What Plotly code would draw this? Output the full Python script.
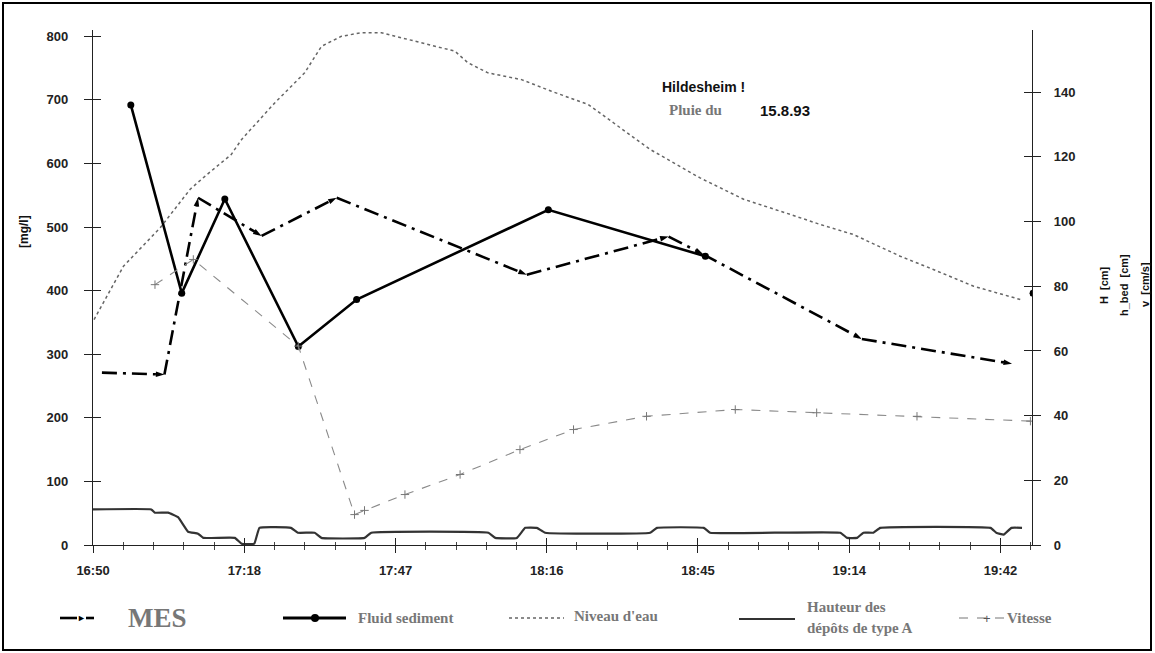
import plotly.graph_objects as go

# ---------------- data (time in minutes after 16:50) ----------------
tick_minutes = [0, 28.8, 57.6, 86.4, 115.2, 144.0, 172.8]
tick_labels = ["16:50", "17:18", "17:47", "18:16", "18:45", "19:14", "19:42"]

mes_t = [1.7, 13.6, 20.0, 32.1, 46.4, 82.6, 109.6, 116.2, 146.4, 175.0]
mes_v = [271, 268, 546, 486, 546, 425, 485, 457, 324, 285]

fluid_t = [7.2, 16.9, 25.1, 39.1, 50.2, 86.7, 116.6, 150.0, 179.0]
fluid_v = [692, 396, 544, 312, 386, 527, 454, None, 396]

niveau_t = [0.2, 5.8, 12.8, 18.5, 21.3, 26.3, 28.3, 34.6, 40.3, 43.5, 47.3, 51.1,
            54.9, 62.5, 68.9, 71.4, 75.2, 81.6, 87.3, 94.3, 106.1, 115.6, 123.9,
            132.8, 138.5, 144.8, 153.7, 160.0, 167.7, 176.6]
niveau_v = [69.7, 86.2, 98.1, 110, 114, 120.7, 125.4, 136.7, 146, 154.2, 157.3, 158.4,
            158.4, 155.3, 152.7, 149.1, 146, 143.9, 140.3, 136.2, 122.3, 113.5, 106.9,
            102.2, 99.1, 96, 89.3, 85.2, 80, 75.9]

hbed_t = [0, 11.1, 11.8, 14.3, 16.2, 18.1, 20, 21, 27, 28.3,
          30.7, 31.7, 37.7, 39, 42.2, 43.5, 51.7, 53, 75.3, 76.6,
          80.7, 82.3, 84.5, 86.1, 106.1, 107.4, 116.3, 117.5, 142.3, 143.6,
          145.5, 146.7, 148.6, 149.9, 170.9, 172, 173.4, 174.9, 176.9]
hbed_v = [11, 11, 10, 10, 8.6, 4.1, 3.5, 2.2, 2.2, 0.4,
          0.4, 5.3, 5.3, 3.8, 3.8, 2.2, 2.2, 3.8, 3.8, 2.2,
          2.2, 5.3, 5.3, 3.8, 3.8, 5.3, 5.3, 3.8, 3.8, 2.2,
          2.2, 3.8, 3.8, 5.3, 5.3, 3.8, 3.2, 5.3, 5.3]

vit_t = [11.8, 19.1, 39.1, 49.8, 51.7, 59.4, 69.9, 81.3, 91.5, 105.4, 122.3, 137.8, 156.9, 178.5]
vit_v = [80.5, 88.3, 61.5, 9.4, 10.7, 15.6, 21.8, 29.5, 35.7, 39.8, 41.9, 40.9, 39.8, 38.3]

# ---------------- layout geometry ----------------
W, H = 1155, 653
L, R, T, B = 93, 1032, 30, 545
XMAX = 178.8
Y1MAX = (B - T) / 0.636
Y2MAX = (B - T) / 3.234


def px(x):
    return (x - L) / (R - L)


def py(y):
    return (B - y) / (B - T)


fig = go.Figure()

fig.add_trace(go.Scatter(x=niveau_t, y=niveau_v, yaxis="y2", mode="lines",
                         line=dict(color="#666", width=1.5, dash="dot"),
                         name="Niveau d'eau"))
fig.add_trace(go.Scatter(x=vit_t, y=vit_v, yaxis="y2", mode="lines+markers",
                         line=dict(color="#8a8a8a", width=1.1, dash="dash"),
                         marker=dict(symbol="cross-thin", size=6, line=dict(color="#777", width=1)),
                         name="Vitesse"))
fig.add_trace(go.Scatter(x=hbed_t, y=hbed_v, yaxis="y2", mode="lines",
                         line=dict(color="#333", width=2.2, shape="spline", smoothing=0.3),
                         name="Hauteur des dépôts de type A"))
fig.add_trace(go.Scatter(x=mes_t, y=mes_v, mode="lines+markers",
                         line=dict(color="black", width=2.6, dash="longdashdot"),
                         marker=dict(symbol="arrow", size=9, angleref="previous", color="black"),
                         name="MES"))
fig.add_trace(go.Scatter(x=fluid_t, y=fluid_v, mode="lines+markers", connectgaps=False,
                         line=dict(color="black", width=2.6),
                         marker=dict(symbol="circle", size=7, color="black"),
                         name="Fluid sediment"))
# empty traces that carry the overlay axes used for crossing ticks
fig.add_trace(go.Scatter(x=[], y=[], xaxis="x2", yaxis="y3", showlegend=False))
fig.add_trace(go.Scatter(x=[], y=[], xaxis="x2", yaxis="y4", showlegend=False))

tickfont = dict(family="Liberation Sans", size=13, color="#222", weight="bold")
xtickfont = dict(family="Liberation Sans", size=13, color="#222", weight="bold")

fig.update_layout(
    width=W, height=H,
    margin=dict(l=L, r=W - R, t=T, b=H - B),
    paper_bgcolor="white", plot_bgcolor="white",
    showlegend=False,
    xaxis=dict(range=[0, XMAX], tickvals=tick_minutes, ticktext=tick_labels,
               ticks="outside", ticklen=7, tickwidth=1, tickcolor="#222",
               minor=dict(dtick=5.76, tick0=0, ticks="outside", ticklen=4, tickcolor="#444"),
               showline=True, linecolor="#222", linewidth=1.3, showgrid=False, zeroline=False,
               tickfont=xtickfont, ticklabelstandoff=6),
    xaxis2=dict(range=[0, XMAX], overlaying="x", anchor="y", side="bottom",
                tickvals=tick_minutes, ticks="inside", ticklen=7, tickcolor="#222",
                minor=dict(dtick=5.76, tick0=0, ticks="inside", ticklen=3, tickcolor="#444"),
                showticklabels=False, showline=False, showgrid=False, zeroline=False),
    yaxis=dict(range=[0, Y1MAX], tickvals=[0, 100, 200, 300, 400, 500, 600, 700, 800],
               ticks="outside", ticklen=8, tickcolor="#222",
               showline=True, linecolor="#222", linewidth=1.3, showgrid=False, zeroline=False,
               tickfont=tickfont, ticklabelstandoff=13),
    yaxis2=dict(range=[0, Y2MAX], overlaying="y", side="right", anchor="x",
                tickvals=[0, 20, 40, 60, 80, 100, 120, 140],
                ticks="outside", ticklen=8, tickcolor="#222",
                showline=True, linecolor="#222", linewidth=1.3, showgrid=False, zeroline=False,
                tickfont=tickfont, ticklabelstandoff=10),
    yaxis3=dict(range=[0, Y1MAX], overlaying="y", side="left", anchor="x",
                tickvals=[0, 100, 200, 300, 400, 500, 600, 700, 800],
                ticks="inside", ticklen=8, tickcolor="#222",
                showticklabels=False, showline=False, showgrid=False, zeroline=False),
    yaxis4=dict(range=[0, Y2MAX], overlaying="y", side="right", anchor="x",
                tickvals=[0, 20, 40, 60, 80, 100, 120, 140],
                ticks="inside", ticklen=8, tickcolor="#222",
                showticklabels=False, showline=False, showgrid=False, zeroline=False),
)

ann = []


def text(x, y, s, size, family="Liberation Sans", color="#111", bold=True, angle=0,
         xanchor="center"):
    ann.append(dict(x=px(x), y=py(y), xref="paper", yref="paper", text=s, showarrow=False,
                    textangle=angle, xanchor=xanchor, yanchor="middle",
                    font=dict(family=family, size=size, color=color,
                              weight="bold" if bold else "normal")))


# titles inside the chart
text(660, 87, "Hildesheim !", 14, xanchor="left")
text(667, 110, "Pluie du", 15, family="Liberation Serif", color="#777", xanchor="left")
text(758, 110, "15.8.93", 15, xanchor="left")

# axis titles
text(24, 232, "[mg/l]", 12, angle=-90)
text(1104, 285, "H  [cm]", 11, angle=-90)
text(1124, 285, "h_bed  [cm]", 11, angle=-90)
text(1145, 285, "v  [cm/s]", 11, angle=-90)

# legend (drawn by hand)
LY = 618
serif = "Liberation Serif"
text(126, LY, "MES", 27, family=serif, color="#777", xanchor="left")
text(356, LY, "Fluid sediment", 15, family=serif, color="#777", xanchor="left")
text(572, LY - 2, "Niveau d'eau", 15, family=serif, color="#777", xanchor="left")
text(805, LY - 11, "Hauteur des", 15, family=serif, color="#777", xanchor="left")
text(805, LY + 10, "dépôts de type A", 15, family=serif, color="#777", xanchor="left")
text(1005, LY, "Vitesse", 15, family=serif, color="#777", xanchor="left")
text(81, LY, "►", 9, color="black", bold=False)
text(987, LY, "+", 13, color="#555", bold=False)

shapes = []


def seg(x0, x1, y, width, dash="solid", color="black"):
    shapes.append(dict(type="line", xref="paper", yref="paper", x0=px(x0), x1=px(x1),
                       y0=py(y), y1=py(y), line=dict(color=color, width=width, dash=dash)))


seg(60, 77, LY, 2.6)
seg(86, 94, LY, 2.6)
seg(283, 346, LY, 3)
shapes.append(dict(type="circle", xref="paper", yref="paper", xsizemode="pixel",
                   ysizemode="pixel", xanchor=px(315), yanchor=py(LY),
                   x0=-4, x1=4, y0=-4, y1=4, fillcolor="black", line=dict(width=0)))
seg(509, 564, LY, 1.6, dash="dot", color="#666")
seg(739, 795, LY + 1, 2.2, color="#333")
seg(959, 1005, LY, 1.1, dash="dash", color="#777")

# frame around the whole picture
shapes.append(dict(type="rect", xref="paper", yref="paper",
                   x0=px(3), x1=px(1151), y0=py(650), y1=py(3),
                   line=dict(color="black", width=2)))

fig.update_layout(annotations=ann, shapes=shapes)

fig.write_html("out.html", config={"displayModeBar": False},
               post_script="document.body.style.margin='0';")
